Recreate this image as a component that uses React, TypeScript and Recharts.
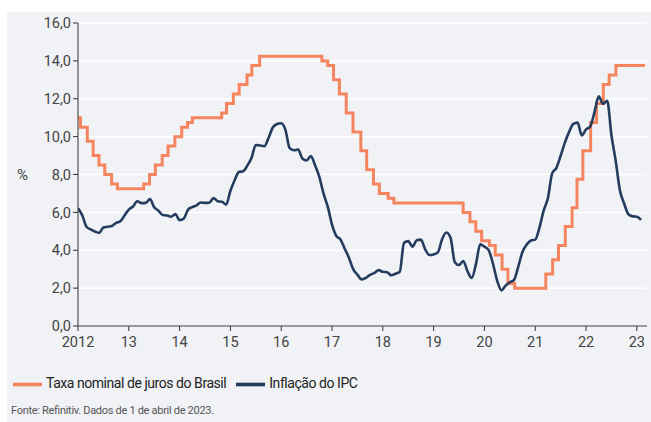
import { CartesianGrid, Legend, Line, LineChart, XAxis, YAxis } from 'recharts'

// Taxa Selic: datas de alteração e nova taxa (% a.a.)
const selicDates = [
  '2012-01-01', '2012-01-19', '2012-03-08', '2012-04-19', '2012-05-31', '2012-07-12', '2012-08-30', '2012-10-11',
  '2013-04-18', '2013-05-30', '2013-07-11', '2013-08-29', '2013-10-10', '2013-11-28',
  '2014-01-16', '2014-02-27', '2014-04-03', '2014-10-30', '2014-12-04',
  '2015-01-22', '2015-03-05', '2015-04-30', '2015-06-04', '2015-07-30',
  '2016-10-20', '2016-12-01',
  '2017-01-12', '2017-02-23', '2017-04-13', '2017-06-01', '2017-07-27', '2017-09-07', '2017-10-26', '2017-12-07',
  '2018-02-08', '2018-03-22',
  '2019-08-01', '2019-09-19', '2019-10-31', '2019-12-12',
  '2020-02-06', '2020-03-19', '2020-05-07', '2020-06-18', '2020-08-06',
  '2021-03-18', '2021-05-06', '2021-06-17', '2021-08-05', '2021-09-23', '2021-10-28', '2021-12-09',
  '2022-02-03', '2022-03-17', '2022-05-05', '2022-06-16', '2022-08-04',
  '2023-03-01'
]
const selicRates = [
  11.0, 10.5, 9.75, 9.0, 8.5, 8.0, 7.5, 7.25,
  7.5, 8.0, 8.5, 9.0, 9.5, 10.0,
  10.5, 10.75, 11.0, 11.25, 11.75,
  12.25, 12.75, 13.25, 13.75, 14.25,
  14.0, 13.75,
  13.0, 12.25, 11.25, 10.25, 9.25, 8.25, 7.5, 7.0,
  6.75, 6.5,
  6.0, 5.5, 5.0, 4.5,
  4.25, 3.75, 3.0, 2.25, 2.0,
  2.75, 3.5, 4.25, 5.25, 6.25, 7.75, 9.25,
  10.75, 11.75, 12.75, 13.25, 13.75,
  13.75
]

// IPCA acumulado em 12 meses, mensal a partir de jan/2012
const ipcaStart = 2012
const ipcaValues = [
  6.22, 5.85, 5.24, 5.1, 4.99, 4.92, 5.2, 5.24, 5.28, 5.45, 5.53, 5.84,
  6.15, 6.31, 6.59, 6.49, 6.5, 6.7, 6.27, 6.09, 5.86, 5.84, 5.77, 5.91,
  5.59, 5.68, 6.15, 6.28, 6.37, 6.52, 6.5, 6.51, 6.75, 6.59, 6.56, 6.41,
  7.14, 7.7, 8.13, 8.17, 8.47, 8.89, 9.56, 9.53, 9.49, 9.93, 10.48, 10.67,
  10.71, 10.36, 9.39, 9.28, 9.32, 8.84, 8.74, 8.97, 8.48, 7.87, 6.99, 6.29,
  5.35, 4.76, 4.57, 4.08, 3.6, 3.0, 2.71, 2.46, 2.54, 2.7, 2.8, 2.95,
  2.86, 2.84, 2.68, 2.76, 2.86, 4.39, 4.48, 4.19, 4.53, 4.56, 4.05, 3.75,
  3.78, 3.89, 4.58, 4.94, 4.66, 3.37, 3.22, 3.43, 2.89, 2.54, 3.27, 4.31,
  4.19, 4.01, 3.3, 2.4, 1.88, 2.13, 2.31, 2.44, 3.14, 3.92, 4.31, 4.52,
  4.56, 5.2, 6.1, 6.76, 8.06, 8.35, 8.99, 9.68, 10.25, 10.67, 10.74, 10.06,
  10.38, 10.54, 11.3, 12.13, 11.73, 11.89, 10.07, 8.73, 7.17, 6.47, 5.9, 5.79,
  5.77, 5.6
]

const yearTicks = [2012, 2013, 2014, 2015, 2016, 2017, 2018, 2019, 2020, 2021, 2022, 2023]
const pctTicks = [0, 2, 4, 6, 8, 10, 12, 14, 16]
const seriesOrder = ['Taxa nominal de juros do Brasil', 'Inflação do IPC']

const ORANGE = '#f5845f'
const NAVY = '#243c5e'
const FONT = 'Roboto, "Noto Sans", sans-serif'

const toYear = (iso: string) => {
  const d = new Date(iso + 'T00:00:00Z')
  const y = d.getUTCFullYear()
  const start = Date.UTC(y, 0, 1)
  const end = Date.UTC(y + 1, 0, 1)
  return y + (d.getTime() - start) / (end - start)
}

const selicData = selicDates.map((date, i) => ({ x: toYear(date), selic: selicRates[i] }))
const ipcaData = ipcaValues.map((v, i) => ({ x: ipcaStart + i / 12, ipca: v }))

const fmtPct = (v: number) => v.toFixed(1).replace('.', ',')
const fmtYear = (v: number) => (v === 2012 ? '2012' : String(v).slice(2))

export default function App() {
  return (
    <div style={{ position: 'fixed', left: 0, top: 0, width: 651, height: 422, background: '#fff', fontFamily: FONT }}>
      <div style={{ position: 'absolute', left: 7, top: 12, width: 644, height: 410, background: '#f0f2f5' }} />
      <div style={{ position: 'absolute', left: 0, top: 0 }}>
        <LineChart width={651} height={395} margin={{ top: 23, right: 4, left: 0, bottom: 16 }}>
          <CartesianGrid vertical={false} stroke="#ffffff" strokeWidth={1.5} />
          <XAxis
            type="number"
            dataKey="x"
            domain={[2012, 2023.2]}
            allowDataOverflow
            ticks={yearTicks}
            tickFormatter={fmtYear}
            height={24}
            stroke="#333"
            tickSize={5}
            tickMargin={6}
            tick={{ fill: '#444', fontSize: 14.5, fontFamily: FONT }}
          />
          <YAxis
            domain={[0, 16]}
            ticks={pctTicks}
            tickFormatter={fmtPct}
            width={78}
            stroke="#333"
            tickSize={5}
            tick={{ fill: '#444', fontSize: 14.5, fontFamily: FONT }}
            label={{ value: '%', position: 'insideLeft', offset: 17, fill: '#444', fontSize: 15, fontFamily: FONT }}
          />
          <Legend
            verticalAlign="bottom"
            align="left"
            iconType="plainline"
            iconSize={29}
            itemSorter={(item: any) => seriesOrder.indexOf(item.value)}
            wrapperStyle={{ left: 13, bottom: 'auto', top: 370, fontSize: 14, fontFamily: FONT }}
            formatter={(value) => <span style={{ color: '#222', letterSpacing: -0.45 }}>{value}</span>}
          />
          <Line
            data={selicData}
            dataKey="selic"
            name="Taxa nominal de juros do Brasil"
            type="stepAfter"
            stroke={ORANGE}
            strokeWidth={3}
            dot={false}
            isAnimationActive={false}
          />
          <Line
            data={ipcaData}
            dataKey="ipca"
            name="Inflação do IPC"
            type="monotone"
            stroke={NAVY}
            strokeWidth={2.6}
            dot={false}
            isAnimationActive={false}
          />
        </LineChart>
      </div>
      <div style={{ position: 'absolute', left: 11, top: 404, fontSize: 11, letterSpacing: -0.3, color: '#555' }}>
        Fonte: Refinitiv. Dados de 1 de abril de 2023.
      </div>
    </div>
  )
}
